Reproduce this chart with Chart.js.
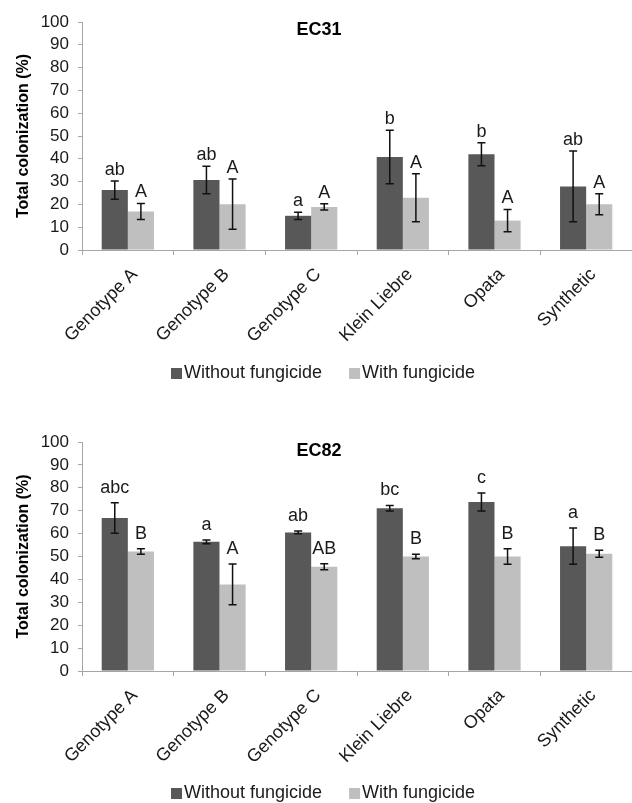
<!DOCTYPE html>
<html>
<head>
<meta charset="utf-8">
<script src="https://cdn.jsdelivr.net/npm/chart.js@4"></script>
<style>
  html, body { margin: 0; padding: 0; background: #ffffff; }
  canvas { display: block; }
</style>
</head>
<body>
<canvas id="c1" width="632" height="400"></canvas>
<canvas id="c2" width="632" height="403"></canvas>
<script>
const categories = ['Genotype A', 'Genotype B', 'Genotype C', 'Klein Liebre', 'Opata', 'Synthetic'];
const seriesNames = ['Without fungicide', 'With fungicide'];
const yTicks = [0, 10, 20, 30, 40, 50, 60, 70, 80, 90, 100];

const ec31Without = [26.3, 30.7, 15.0, 40.8, 42.0, 27.9];
const ec31WithoutErr = [4.0, 6.0, 1.6, 11.7, 5.0, 15.5];
const ec31With = [16.9, 20.1, 18.9, 22.9, 12.9, 20.1];
const ec31WithErr = [3.5, 11.0, 1.4, 10.5, 4.9, 4.6];
const ec31WithoutLetters = ['ab', 'ab', 'a', 'b', 'b', 'ab'];
const ec31WithLetters = ['A', 'A', 'A', 'A', 'A', 'A'];

const ec82Without = [66.8, 56.4, 60.5, 71.1, 73.8, 54.5];
const ec82WithoutErr = [6.7, 0.8, 0.6, 1.2, 3.9, 7.9];
const ec82With = [52.2, 37.8, 45.5, 50.0, 50.0, 51.2];
const ec82WithErr = [1.2, 8.9, 1.3, 1.0, 3.4, 1.5];
const ec82WithoutLetters = ['abc', 'a', 'ab', 'bc', 'c', 'a'];
const ec82WithLetters = ['B', 'A', 'AB', 'B', 'B', 'B'];

const DARK = '#585858';
const LIGHT = '#bfbfbf';
const AXIS = '#a6a6a6';
const TEXT = '#1a1a1a';
const FONT = "'Liberation Sans', Arial, sans-serif";

const extrasPlugin = {
  id: 'extras',
  afterDatasetsDraw(chart, args, opts) {
    const ctx = chart.ctx;
    const ys = chart.scales.y;
    ctx.save();
    chart.data.datasets.forEach((ds, di) => {
      const meta = chart.getDatasetMeta(di);
      meta.data.forEach((bar, i) => {
        const v = ds.data[i];
        const e = ds.errors[i];
        const x = bar.x;
        const yTop = ys.getPixelForValue(v + e);
        const yBot = ys.getPixelForValue(v - e);
        ctx.strokeStyle = '#111';
        ctx.lineWidth = 1.5;
        ctx.beginPath();
        ctx.moveTo(x, yTop); ctx.lineTo(x, yBot);
        ctx.moveTo(x - 4, yTop); ctx.lineTo(x + 4, yTop);
        ctx.moveTo(x - 4, yBot); ctx.lineTo(x + 4, yBot);
        ctx.stroke();
        ctx.fillStyle = TEXT;
        ctx.font = '18px ' + FONT;
        ctx.textAlign = 'center';
        ctx.textBaseline = 'alphabetic';
        ctx.fillText(ds.letters[i], x, yTop - opts.letterGap);
      });
    });
    // title
    ctx.fillStyle = '#000';
    ctx.font = 'bold 18px ' + FONT;
    ctx.textAlign = 'center';
    ctx.textBaseline = 'middle';
    ctx.fillText(opts.title, chart.width / 2 + 3, opts.titleY);
    // legend
    ctx.font = '18px ' + FONT;
    ctx.textBaseline = 'middle';
    ctx.textAlign = 'left';
    let x = opts.legendX;
    chart.data.datasets.forEach((ds, di) => {
      ctx.fillStyle = ds.backgroundColor;
      ctx.fillRect(x, opts.legendY - 5, 11, 11);
      ctx.fillStyle = TEXT;
      ctx.fillText(ds.label, x + 13, opts.legendY);
      x += 13 + ctx.measureText(ds.label).width + 27;
    });
    ctx.restore();
  }
};

function makeChart(id, withoutVals, withoutErr, withoutLetters, withVals, withErr, withLetters, cfg) {
  return new Chart(document.getElementById(id), {
    type: 'bar',
    data: {
      labels: categories,
      datasets: [
        { label: seriesNames[0], data: withoutVals, errors: withoutErr, letters: withoutLetters,
          backgroundColor: DARK, borderWidth: 0, barPercentage: 1.0, categoryPercentage: 0.57 },
        { label: seriesNames[1], data: withVals, errors: withErr, letters: withLetters,
          backgroundColor: LIGHT, borderWidth: 0, barPercentage: 1.0, categoryPercentage: 0.57 }
      ]
    },
    options: {
      responsive: false,
      animation: false,
      devicePixelRatio: 1,
      layout: { padding: { top: cfg.top, left: 0, right: 0, bottom: 0 } },
      plugins: {
        legend: { display: false },
        tooltip: { enabled: false },
        title: { display: false },
        extras: cfg.extras
      },
      scales: {
        x: {
          grid: { display: true, drawOnChartArea: false, drawTicks: true, tickLength: 5, color: AXIS, offset: true },
          border: { display: true, color: AXIS, width: 1 },
          ticks: { color: TEXT, font: { family: FONT, size: 18 }, minRotation: 45, maxRotation: 45, padding: 9, labelOffset: 7, autoSkip: false },
          afterFit(scale) { scale.height = cfg.xHeight; }
        },
        y: {
          min: 0, max: 100,
          afterBuildTicks(scale) { scale.ticks = yTicks.map(v => ({ value: v })); },
          grid: { display: true, drawOnChartArea: false, drawTicks: true, tickLength: 4, color: AXIS },
          border: { display: true, color: AXIS, width: 1 },
          ticks: { color: TEXT, font: { family: FONT, size: 17 }, padding: 9, autoSkip: false, stepSize: 10 },
          title: { display: true, text: 'Total colonization (%)', color: '#000', font: { family: FONT, size: 16, weight: 'bold' }, padding: { top: 14, bottom: 0 } },
          afterFit(scale) { scale.width = 82; }
        }
      }
    },
    plugins: [extrasPlugin]
  });
}

makeChart('c1', ec31Without, ec31WithoutErr, ec31WithoutLetters, ec31With, ec31WithErr, ec31WithLetters,
  { top: 22, xHeight: 150, extras: { title: 'EC31', titleY: 30, legendX: 171, legendY: 373, letterGap: 6 } });
makeChart('c2', ec82Without, ec82WithoutErr, ec82WithoutLetters, ec82With, ec82WithErr, ec82WithLetters,
  { top: 42, xHeight: 132, extras: { title: 'EC82', titleY: 51, legendX: 171, legendY: 393, letterGap: 10 } });
</script>
</body>
</html>
